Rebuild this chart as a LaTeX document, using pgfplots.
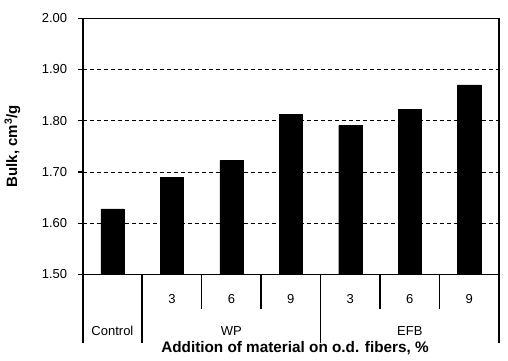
\documentclass[border=0pt]{standalone}
\usepackage{pgfplots}
\pgfplotsset{compat=1.18}
\usepackage{fontspec}
\setmainfont{Liberation Sans}
\begin{document}
\begin{tikzpicture}
\useasboundingbox (0,0) rectangle (508pt,360pt);
\begin{axis}[
  at={(82.7pt,85.7pt)}, anchor=south west,
  scale only axis, width=416.3pt, height=256pt,
  xmin=-0.5, xmax=6.5, ymin=1.5, ymax=2.0,
  ytick={1.5,1.6,...,2.0},
  xtick={0,1,2,3,4,5,6},
  xticklabels={,3,6,9,3,6,9},
  major x tick style={draw=none},
  ytick style={line width=1.2pt, black},
  major tick length=5pt,
  tick align=outside, ytick pos=left,
  ymajorgrids, grid style={black, line width=0.8pt, dash pattern=on 4pt off 3pt},
  axis line style={line width=1.6pt},
  clip=false,
  /pgf/number format/assume math mode=true,
  yticklabel style={/pgf/number format/fixed, /pgf/number format/fixed zerofill, /pgf/number format/precision=2, font=\fontsize{13}{15}\selectfont, xshift=-7pt},
  xticklabel style={font=\fontsize{13}{15}\selectfont, anchor=center, yshift=-20pt},
  ylabel={\textbf{Bulk, cm\textsuperscript{3}/g}},
  ylabel style={at={(axis description cs:-0.169,0.5)}, anchor=center, font=\fontsize{15}{17}\selectfont},
  xlabel={\textbf{Addition of material on o.d. fibers, \%}},
  xlabel style={at={(axis description cs:0.51,-0.29)}, anchor=center, font=\fontsize{15.3}{17}\selectfont},
]
\addplot[ybar, bar width=0.39, fill=black, draw=black] coordinates {
 (0,1.628) (1,1.689) (2,1.722) (3,1.813) (4,1.791) (5,1.822) (6,1.870)};
% dividers of the category table
\draw[line width=1.6pt] (axis cs:-0.5,1.5) -- (axis cs:-0.5,1.366);
\draw[line width=1.6pt] (axis cs:0.5,1.5) -- (axis cs:0.5,1.366);
\draw[line width=1.6pt] (axis cs:3.5,1.5) -- (axis cs:3.5,1.366);
\draw[line width=1.6pt] (axis cs:6.5,1.5) -- (axis cs:6.5,1.366);
\draw[line width=1.6pt] (axis cs:1.5,1.5) -- (axis cs:1.5,1.432);
\draw[line width=1.6pt] (axis cs:2.5,1.5) -- (axis cs:2.5,1.432);
\draw[line width=1.2pt] (axis cs:4.5,1.5) -- (axis cs:4.5,1.432);
\draw[line width=1.6pt] (axis cs:5.5,1.5) -- (axis cs:5.5,1.432);
\node[font=\fontsize{13}{15}\selectfont] at (axis cs:0,1.390) {Control};
\node[font=\fontsize{13}{15}\selectfont] at (axis cs:2,1.390) {WP};
\node[font=\fontsize{13}{15}\selectfont] at (axis cs:5,1.390) {EFB};
\end{axis}
\end{tikzpicture}
\end{document}
